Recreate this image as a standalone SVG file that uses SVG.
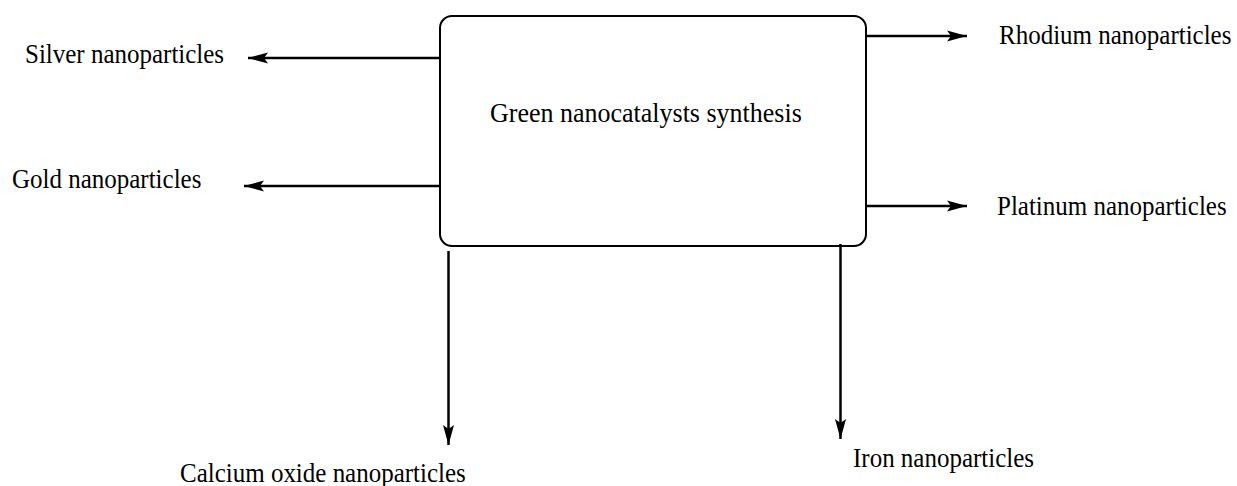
<svg xmlns="http://www.w3.org/2000/svg" width="1237" height="486" viewBox="0 0 1237 486">
<style>
.lbl{font-family:"Liberation Serif","Times New Roman",serif;font-size:25px;fill:#000}
.ttl{font-family:"Liberation Serif","Times New Roman",serif;font-size:26px;fill:#000}
.box{fill:#fff;stroke:#000;stroke-width:2}
.edge{stroke:#000;stroke-width:2.5;fill:none;marker-end:url(#arr)}
</style>
<defs>
<marker id="arr" markerUnits="userSpaceOnUse" markerWidth="24" markerHeight="14" viewBox="-22 -7 24 14" refX="0" refY="0" orient="auto">
<path d="M0,0 L-20,-5.5 L-16,0 L-20,5.5 Z" fill="#000"/>
</marker>
</defs>
<rect width="1237" height="486" fill="#fff"/>
<g id="center">
<rect class="box" x="440" y="16" width="426" height="230" rx="12" ry="12"/>
<text class="ttl" transform="translate(490,122) scale(1,1.08)">Green nanocatalysts synthesis</text>
</g>
<g id="connectors">
<line class="edge" x1="440" y1="58" x2="248" y2="58"/>
<line class="edge" x1="440" y1="186" x2="244" y2="186"/>
<line class="edge" x1="866" y1="36" x2="967" y2="36"/>
<line class="edge" x1="866" y1="206" x2="967" y2="206"/>
<line class="edge" x1="448.5" y1="251" x2="448.5" y2="445"/>
<line class="edge" x1="840.5" y1="244" x2="840.5" y2="439"/>
</g>
<g id="silver"><text class="lbl" transform="translate(25,63) scale(1,1.08)">Silver nanoparticles</text></g>
<g id="gold"><text class="lbl" transform="translate(12,188) scale(1,1.08)">Gold nanoparticles</text></g>
<g id="rhodium"><text class="lbl" transform="translate(999,44) scale(1,1.08)">Rhodium nanoparticles</text></g>
<g id="platinum"><text class="lbl" transform="translate(997,215) scale(1,1.08)">Platinum nanoparticles</text></g>
<g id="calcium"><text class="lbl" transform="translate(180,482) scale(1,1.08)">Calcium oxide nanoparticles</text></g>
<g id="iron"><text class="lbl" transform="translate(853,467) scale(1,1.08)">Iron nanoparticles</text></g>
</svg>
